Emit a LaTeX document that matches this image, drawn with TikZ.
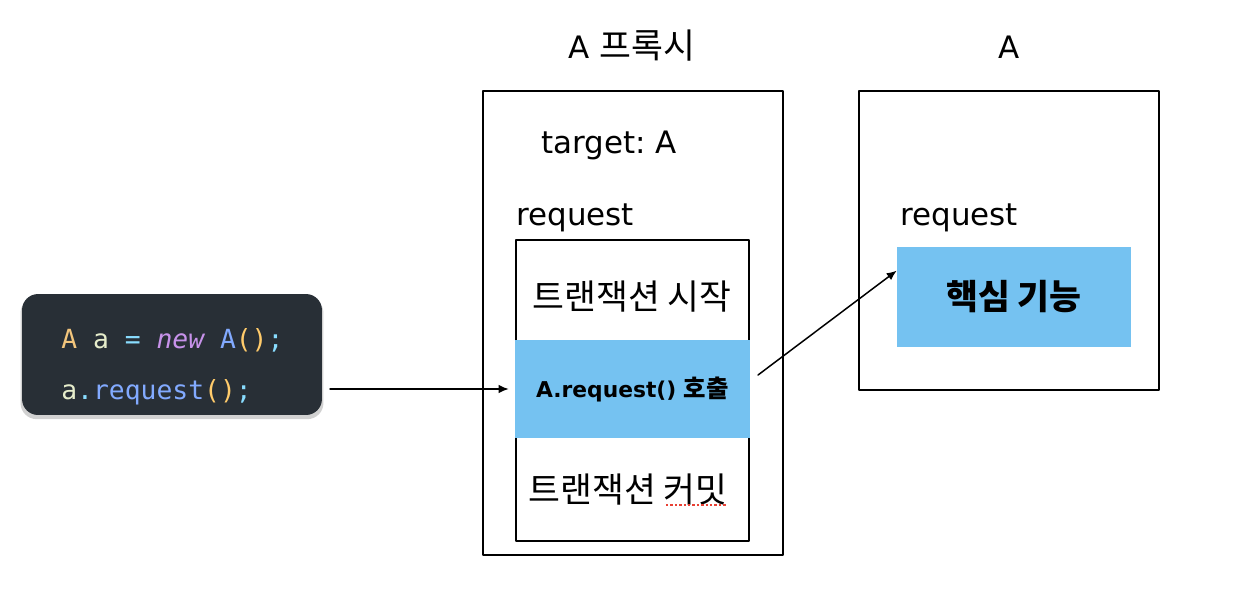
\documentclass[tikz,border=0pt]{standalone}
\usepackage{fontspec}
\setmainfont{DejaVu Sans}
\newfontfamily\kr{Noto Sans CJK KR}[Scale=1.12]
\newfontfamily\codefont{DejaVu Sans Mono}
\usepackage{tikz}
\usetikzlibrary{arrows.meta, positioning, shadows}

\definecolor{callblue}{RGB}{117,194,241}
\definecolor{codebg}{RGB}{40,47,54}
\definecolor{cdtype}{RGB}{242,197,124}
\definecolor{cdvar}{RGB}{230,237,203}
\definecolor{cdop}{RGB}{137,221,255}
\definecolor{cdkey}{RGB}{199,146,234}
\definecolor{cdfun}{RGB}{130,170,255}
\definecolor{cdparen}{RGB}{255,203,107}
\definecolor{spellred}{RGB}{232,64,52}

\frenchspacing

\begin{document}
\begin{tikzpicture}[
  x=0.02cm,
  y=-0.02cm,
  line cap=round,
  line join=round,
  frame/.style={
    draw=black,
    line width=1.1pt,
    fill=white,
    minimum width=6cm,
    inner sep=0pt
  },
  callbox/.style={
    fill=callblue,
    minimum width=4.70cm,
    minimum height=1.96cm,
    font=\fontsize{12.4}{15}\selectfont\bfseries,
    inner sep=0pt
  },
  corebox/.style={
    fill=callblue,
    minimum width=4.68cm,
    minimum height=2.0cm,
    font=\fontsize{17.6}{21}\selectfont,
    inner sep=0pt
  },
  label/.style={
    font=\fontsize{17.6}{21}\selectfont,
    inner sep=0pt
  },
  codebox/.style={
    fill=codebg,
    rounded corners=0.32cm,
    minimum width=6cm,
    minimum height=2.42cm,
    drop shadow={shadow xshift=0pt, shadow yshift=-2pt, shadow scale=1.01, opacity=0.3, fill=black!60}
  },
  codetext/.style={
    font=\codefont\fontsize{15}{17}\selectfont,
    inner sep=0pt,
    anchor=base west
  },
  arrow/.style={
    -{Latex[length=2.0mm,width=1.7mm]},
    line width=0.85pt,
    draw=black
  },
  spell/.style={
    draw=spellred,
    line width=1.2pt,
    line cap=butt,
    dash pattern=on 1.4pt off 1.1pt
  }
]
\useasboundingbox (0,0) rectangle (1240,596);

% =========================================================
% Caller code
% =========================================================

\node[codebox] (code) at (172,354.5) {};

\node[codetext] (line1) at (61,348)
{\textcolor{cdtype}{A} \textcolor{cdvar}{a} \textcolor{cdop}{=} \textcolor{cdkey}{\itshape new} \textcolor{cdfun}{A}\textcolor{cdparen}{()}\textcolor{cdop}{;}};

\node[codetext] (line2) at (61,399)
{\textcolor{cdvar}{a}\textcolor{cdop}{.}\textcolor{cdfun}{request}\textcolor{cdparen}{()}\textcolor{cdop}{;}};

% =========================================================
% Proxy of A
% =========================================================

\node[label, anchor=base] (ptitle) at (632,58) {A {\kr 프록시}};

\node[frame, minimum height=9.28cm] (proxy) at (633,323) {};

\node[label, anchor=base] (target) at (609,153) {target: A};

\node[label, anchor=base west] (preq) at (516,225) {request};

\node[frame, minimum width=4.66cm, minimum height=6.02cm] (reqbox) at (632.5,390.5) {};

\node[label] (start) at (632,297) {\kr 트랜잭션 시작};

\node[callbox] (call) at (632.5,389) {A.request() {\kr 호출}};

\node[label] (commit) at (628,490) {\kr 트랜잭션 커밋};

\draw[spell] (666,505) -- (727,505);

% =========================================================
% Real object A
% =========================================================

\node[label, anchor=base] (ttitle) at (1009,58) {A};

\node[frame, minimum height=5.98cm] (targetbox) at (1009,240.5) {};

\node[label, anchor=base west] (treq) at (900,225) {request};

\node[corebox] (core) at (1014,297) {\bfseries\kr 핵심 기능};

% ---------------- connectors ----------------

\coordinate (codeout) at (330,389);
\coordinate (callout) at (758,375);

\draw[arrow, shorten >=0.12cm] (codeout) -- (codeout -| call.west);
\draw[arrow] (callout) -- ([yshift=-0.48cm]core.north west);

\end{tikzpicture}
\end{document}
